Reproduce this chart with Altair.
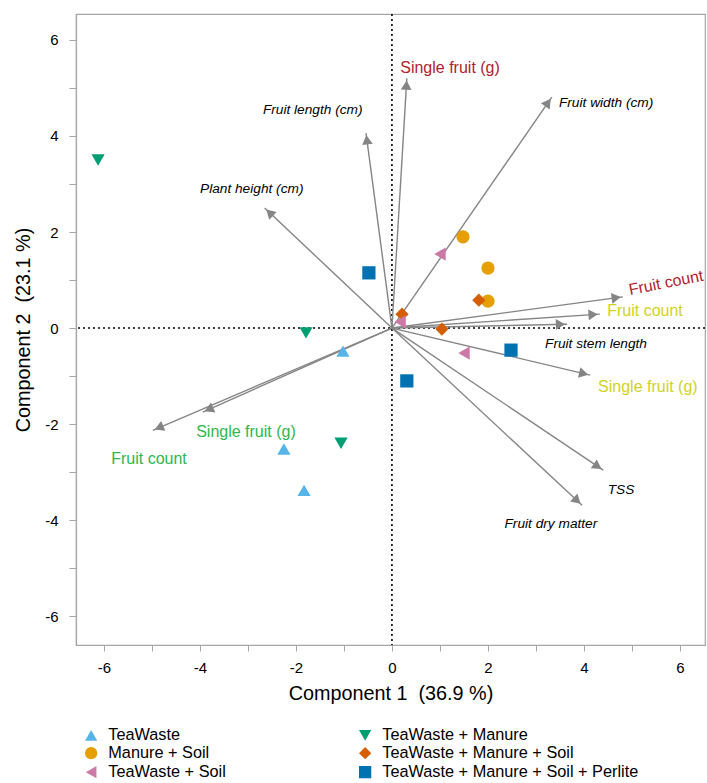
import math
import altair as alt
import pandas as pd

# ---- sample scores ----
groups = ["TeaWaste", "Manure + Soil", "TeaWaste + Soil", "TeaWaste + Manure",
          "TeaWaste + Manure + Soil", "TeaWaste + Manure + Soil + Perlite"]
group_colors = ["#56B4E9", "#E69F00", "#CC79A7", "#009E73", "#D55E00", "#0072B2"]
group_shapes = ["triangle-up", "circle", "triangle-left", "triangle-down", "diamond", "square"]

pt_group = (["TeaWaste"] * 3 + ["TeaWaste + Manure"] * 3 + ["Manure + Soil"] * 3
            + ["TeaWaste + Manure + Soil"] * 3 + ["TeaWaste + Soil"] * 3
            + ["TeaWaste + Manure + Soil + Perlite"] * 3)
pt_x = [-1.02, -2.25, -1.83,
        -6.12, -1.79, -1.06,
        1.48, 2.00, 2.00,
        0.21, 1.04, 1.81,
        1.00, 1.50, 0.17,
        -0.48, 2.48, 0.31]
pt_y = [-0.48, -2.52, -3.38,
        3.50, -0.10, -2.40,
        1.90, 1.25, 0.56,
        0.29, -0.02, 0.58,
        1.54, -0.52, 0.13,
        1.15, -0.46, -1.10]

# ---- loading vectors ----
var_name = ["Single fruit (g)", "Fruit length (cm)", "Fruit width (cm)", "Plant height (cm)",
            "Fruit count", "Fruit count", "Fruit stem length", "Single fruit (g)",
            "TSS", "Fruit dry matter", "Single fruit (g)", "Fruit count"]
var_x = [0.31, -0.54, 3.33, -2.65, 4.81, 4.33, 3.65, 4.13, 4.40, 3.96, -3.94, -4.98]
var_y = [5.20, 4.06, 4.81, 2.50, 0.65, 0.29, 0.08, -0.98, -2.96, -3.69, -1.75, -2.13]
lab_x = [1.21, -1.65, 4.46, -2.92, 5.71, 5.27, 4.25, 5.33, 4.77, 3.31, -3.04, -5.06]
lab_y = [5.42, 4.54, 4.69, 2.90, 0.94, 0.35, -0.33, -1.23, -3.38, -4.08, -2.17, -2.73]
lab_color = ["#B0212F", "black", "black", "black", "#B0212F", "#D2D21E", "black", "#D2D21E",
             "black", "black", "#2DB84B", "#2DB84B"]
lab_italic = [False, True, True, True, False, False, True, False, True, True, False, False]
lab_angle = [0, 0, 0, 0, 349, 0, 0, 0, 0, 0, 0, 0]

FONT = "Liberation Sans"
XDOM = [-6.58, 6.52]
YDOM = [-6.6, 6.54]

pts = pd.DataFrame({"group": pt_group, "x": pt_x, "y": pt_y})

head_back = 0.14
rows = []
for i in range(len(var_name)):
    dx, dy = var_x[i], var_y[i]
    L = math.hypot(dx, dy)
    ang = (math.degrees(math.atan2(dx, dy)) + 360) % 360
    rows.append({
        "name": var_name[i], "x0": 0.0, "y0": 0.0, "x": dx, "y": dy,
        "hx": dx - dx / L * head_back, "hy": dy - dy / L * head_back,
        "ang": ang, "lx": lab_x[i], "ly": lab_y[i], "lcolor": lab_color[i],
        "italic": lab_italic[i], "langle": lab_angle[i],
    })
vec = pd.DataFrame(rows)

xs = alt.Scale(domain=XDOM, nice=False, zero=False)
ys = alt.Scale(domain=YDOM, nice=False, zero=False)

label_expr = "datum.value % 2 == 0 ? toString(datum.value) : ''"
xaxis = alt.Axis(title="Component 1 \u00a0(36.9 %)", values=list(range(-6, 7)), labelExpr=label_expr,
                 grid=False, tickSize=6, labelPadding=9, titlePadding=8)
yaxis = alt.Axis(title="Component 2 \u00a0(23.1 %)", values=list(range(-6, 7)), labelExpr=label_expr,
                 grid=False, tickSize=7, labelPadding=11, titlePadding=11)

base_zero_x = alt.Chart(pd.DataFrame({"v": [0]})).mark_rule(
    color="black", strokeDash=[2, 3], strokeWidth=1.6
).encode(x=alt.X("v:Q", scale=xs, axis=xaxis))
base_zero_y = alt.Chart(pd.DataFrame({"v": [0]})).mark_rule(
    color="black", strokeDash=[2, 3], strokeWidth=1.6
).encode(y=alt.Y("v:Q", scale=ys, axis=yaxis))

lines = alt.Chart(vec).mark_rule(color="#858585", strokeWidth=1.4).encode(
    x=alt.X("x0:Q", scale=xs), y=alt.Y("y0:Q", scale=ys), x2="x:Q", y2="y:Q"
)
heads = alt.Chart(vec).mark_point(shape="triangle-up", filled=True, color="#858585",
                                  opacity=1, size=115).encode(
    x=alt.X("hx:Q", scale=xs), y=alt.Y("hy:Q", scale=ys), angle=alt.Angle("ang:Q", scale=None)
)

labels_it = alt.Chart(vec).transform_filter("datum.italic").mark_text(
    font=FONT, fontSize=13.7, fontStyle="italic", color="black"
).encode(x=alt.X("lx:Q", scale=xs), y=alt.Y("ly:Q", scale=ys), text="name:N")

labels_col = alt.Chart(vec).transform_filter("!datum.italic").mark_text(
    font=FONT, fontSize=16
).encode(
    x=alt.X("lx:Q", scale=xs), y=alt.Y("ly:Q", scale=ys), text="name:N",
    color=alt.Color("lcolor:N", scale=None), angle=alt.Angle("langle:Q", scale=None)
)

points = alt.Chart(pts).mark_point(filled=True, opacity=1, size=175).encode(
    x=alt.X("x:Q", scale=xs),
    y=alt.Y("y:Q", scale=ys),
    color=alt.Color("group:N", scale=alt.Scale(domain=groups, range=group_colors),
                    legend=alt.Legend(title=None, orient="none", legendX=7, legendY=713,
                                      columns=2, columnPadding=130, rowPadding=0,
                                      symbolSize=150, labelFontSize=16.3, labelFont=FONT,
                                      labelLimit=400, symbolOpacity=1, labelOffset=9)),
    shape=alt.Shape("group:N", scale=alt.Scale(domain=groups, range=group_shapes)),
)

chart = alt.layer(base_zero_x, base_zero_y, lines, heads, labels_it, labels_col, points).properties(
    width=629, height=631,
    autosize=alt.AutoSizeParams(type="none"),
    padding={"left": 76, "top": 14, "right": 2, "bottom": 138},
).configure_view(stroke="#A6A6A6", strokeWidth=1.2).configure_axis(
    labelFont=FONT, titleFont=FONT, labelFontSize=15, titleFontSize=19.8,
    titleFontWeight="normal", labelColor="black", titleColor="black",
    domainColor="#A6A6A6", tickColor="#A6A6A6", domainWidth=1.2
)

chart.save("out.html", embed_options={"renderer": "svg", "actions": False})
